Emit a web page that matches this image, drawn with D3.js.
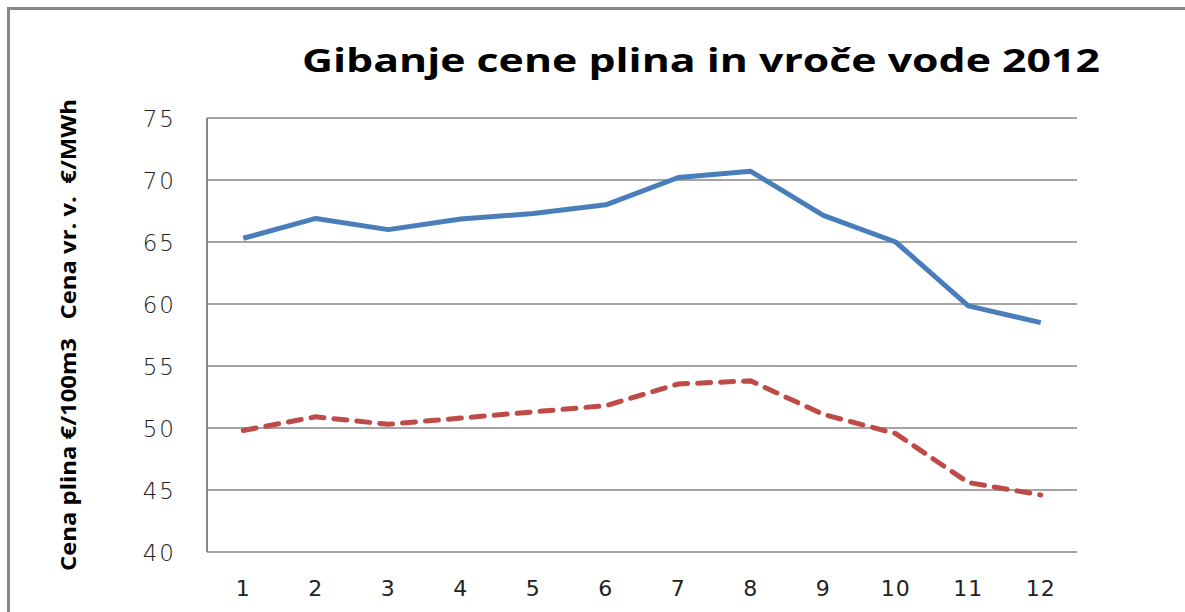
<!DOCTYPE html>
<html>
<head>
<meta charset="utf-8">
<script src="https://cdn.jsdelivr.net/npm/d3@7"></script>
<style>
	body { margin: 0; background: #fff; }
	.grid line { stroke: #868686; stroke-width: 1.5; }
	.tick text { fill: #222; }
</style>
</head>
<body>
<svg class="chart" width="1185" height="612"></svg>
<script>
// months and values
var months = ["1","2","3","4","5","6","7","8","9","10","11","12"];
var waterPrice = [65.3, 66.9, 66.0, 66.85, 67.3, 68.0, 70.2, 70.7, 67.15, 65.0, 59.85, 58.5];
var gasPrice = [49.8, 50.9, 50.3, 50.8, 51.3, 51.8, 53.55, 53.8, 51.1, 49.55, 45.6, 44.6];
var yTicks = [40, 45, 50, 55, 60, 65, 70, 75];

var margin = {top: 118, right: 108, bottom: 60, left: 207},
	width = 1185 - margin.left - margin.right,
	height = 612 - margin.top - margin.bottom;

var svg = d3.select(".chart");

// outer frame
svg.append("rect")
	.attr("x", 8.5).attr("y", 8.5)
	.attr("width", 1190).attr("height", 620)
	.attr("fill", "none")
	.attr("stroke", "#878787")
	.attr("stroke-width", 3);

var x = d3.scaleBand()
	.domain(months)
	.range([0, width]);

var y = d3.scaleLinear()
	.domain([40, 75])
	.range([height, 0]);

var chart = svg.append("g")
	.attr("transform", "translate(" + margin.left + "," + margin.top + ")");

// gridlines
chart.append("g")
	.attr("class", "grid")
	.selectAll("line")
	.data(yTicks)
  .enter().append("line")
	.attr("x1", 0)
	.attr("x2", width)
	.attr("y1", function(d) { return y(d); })
	.attr("y2", function(d) { return y(d); });

// y axis labels
var yAxis = d3.axisLeft(y).tickValues(yTicks).tickSize(0).tickPadding(31);
chart.append("g")
	.attr("class", "y axis")
	.call(yAxis)
	.call(function(g) { g.select(".domain").remove(); })
	.selectAll("text")
	.attr("font-family", "DejaVu Sans")
	.attr("font-size", 23)
	.attr("font-weight", 300)
	.attr("letter-spacing", 2)
	.attr("dy", "0.36em");

// left axis line
chart.append("line")
	.attr("x1", 0).attr("x2", 0)
	.attr("y1", 0).attr("y2", height)
	.attr("stroke", "#868686")
	.attr("stroke-width", 2);

// x axis
var xAxis = d3.axisBottom(x).tickSize(0).tickPadding(28);
chart.append("g")
	.attr("class", "x axis")
	.attr("transform", "translate(0," + height + ")")
	.call(xAxis)
	.call(function(g) { g.select(".domain").remove(); })
	.selectAll("text")
	.attr("font-family", "DejaVu Sans")
	.attr("font-size", 22)
	.attr("letter-spacing", 1)
	.attr("dy", "0.71em");

var line = d3.line()
	.x(function(d, i) { return x(months[i]) + x.bandwidth() / 2; })
	.y(function(d) { return y(d); });

// hot water price
chart.append("path")
	.datum(waterPrice)
	.attr("fill", "none")
	.attr("stroke", "#4a7ebb")
	.attr("stroke-width", 5)
	.attr("stroke-linejoin", "round")
	.attr("d", line);

// gas price
chart.append("path")
	.datum(gasPrice)
	.attr("fill", "none")
	.attr("stroke", "#be4b48")
	.attr("stroke-width", 5)
	.attr("stroke-dasharray", "13,10")
	.attr("stroke-linecap", "round")
	.attr("d", line);

// title
svg.append("text")
	.attr("x", 302)
	.attr("y", 72)
	.attr("font-family", "Open Sans")
	.attr("font-weight", "bold")
	.attr("font-size", 33)
	.attr("textLength", 798)
	.attr("lengthAdjust", "spacingAndGlyphs")
	.text("Gibanje cene plina in vroče vode 2012");

// y axis title
svg.append("text")
	.attr("transform", "translate(76,335) rotate(-90)")
	.attr("text-anchor", "middle")
	.attr("font-family", "Open Sans")
	.attr("font-weight", "bold")
	.attr("font-size", 22)
	.attr("textLength", 472)
	.attr("lengthAdjust", "spacingAndGlyphs")
	.style("white-space", "pre")
	.text("Cena plina €/100m3   Cena vr. v.  €/MWh");
</script>
</body>
</html>
